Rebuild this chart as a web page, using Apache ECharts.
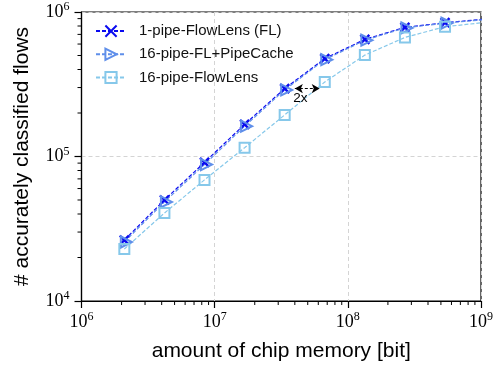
<!DOCTYPE html>
<html>
<head>
<meta charset="utf-8">
<script src="https://cdn.jsdelivr.net/npm/echarts@6/dist/echarts.min.js"></script>
<style>
  html, body { margin: 0; padding: 0; background: #fff; }
  #chart { width: 496px; height: 368px; }
</style>
</head>
<body>
<div id="chart"></div>
<script>
// chip memory in bit (2^21 .. 2^30)
const memory = [2097152, 4194304, 8388608, 16777216, 33554432, 67108864,
  134217728, 268435456, 536870912, 1073741824];

// accurately classified flows
const onePipeFL = [26400, 50000, 91000, 167000, 295000, 476000, 646000, 783000, 843000, 893000];
const pipeCache16 = [25600, 48500, 88000, 162000, 289000, 468000, 638000, 776000, 838000, 885000];
const flowLens16 = [22900, 40600, 68900, 115000, 194000, 328000, 503000, 667000, 791000, 847000];

const seriesNames = ['1-pipe-FlowLens (FL)', '16-pipe-FL+PipeCache', '16-pipe-FlowLens'];

// "2x" annotation between the two curves
const arrowFrom = [40000000, 295000];
const arrowTo = [61500000, 295000];

const xMin = 1e6, xMax = 1e9, yMin = 1e4, yMax = 1e6;

// minor ticks at 2..9 x 10^k
const minorTicks = [];
for (let e = 6; e < 9; e++) for (let m = 2; m <= 9; m++) minorTicks.push([m * Math.pow(10, e), yMin, 0]);
for (let e = 4; e < 6; e++) for (let m = 2; m <= 9; m++) minorTicks.push([xMin, m * Math.pow(10, e), 1]);

const chart = echarts.init(document.getElementById('chart'));

const pow10Label = {
  formatter: v => '{b|10}{s|' + Math.round(Math.log10(v)) + '}',
  rich: {
    b: { fontFamily: 'Liberation Serif', fontSize: 18, color: '#000' },
    s: { fontFamily: 'Liberation Serif', fontSize: 12, color: '#000', padding: [0, 0, 10, 0] }
  }
};

const dashed = { type: [4, 2], width: 1.2 };

chart.setOption({
  animation: false,
  backgroundColor: '#fff',
  grid: {
    left: 81.5, right: 12, top: 12, bottom: 67,
    show: true, borderColor: '#000', borderWidth: 1.2, backgroundColor: 'transparent'
  },
  legend: {
    data: seriesNames,
    orient: 'vertical',
    left: 90, top: 18,
    itemWidth: 30, itemHeight: 14, itemGap: 7,
    textStyle: { fontFamily: 'Liberation Sans', fontSize: 15, color: '#111', padding: [0, 0, 0, 8] }
  },
  xAxis: {
    type: 'log', logBase: 10, min: xMin, max: xMax,
    name: 'amount of chip memory [bit]', nameLocation: 'middle', nameGap: 40,
    nameTextStyle: { fontFamily: 'Liberation Sans', fontSize: 21, color: '#000' },
    axisLine: { lineStyle: { color: '#000', width: 1.2 } },
    axisTick: { show: true, length: 7, lineStyle: { color: '#000', width: 1.2 } },
    axisLabel: Object.assign({ margin: 10 }, pow10Label),
    splitLine: { show: true, lineStyle: { color: '#d4d4d4', type: [4, 3], width: 1 } }
  },
  yAxis: {
    type: 'log', logBase: 10, min: yMin, max: yMax,
    name: '# accurately classified flows', nameLocation: 'middle', nameGap: 49,
    nameTextStyle: { fontFamily: 'Liberation Sans', fontSize: 21, color: '#000' },
    axisLine: { lineStyle: { color: '#000', width: 1.2 } },
    axisTick: { show: true, length: 7, lineStyle: { color: '#000', width: 1.2 } },
    axisLabel: Object.assign({ margin: 12 }, pow10Label),
    splitLine: { show: true, lineStyle: { color: '#d4d4d4', type: [4, 3], width: 1 } }
  },
  series: [
    {
      name: seriesNames[0], type: 'line',
      data: memory.map((m, i) => [m, onePipeFL[i]]),
      symbol: 'path://M0,0L10,10M10,0L0,10', symbolSize: 9,
      itemStyle: { color: 'none', borderColor: '#0a0af0', borderWidth: 2.4 },
      lineStyle: Object.assign({ color: '#0a0af0' }, dashed),
      markLine: {
        silent: true, symbol: ['arrow', 'arrow'], symbolSize: [7, 8],
        lineStyle: { color: '#000', type: [3, 2], width: 1 },
        label: { show: true, position: 'insideMiddleBottom', distance: 3, formatter: '2x',
          fontFamily: 'Liberation Sans', fontSize: 13.5, color: '#000', offset: [-7, 0] },
        data: [[{ coord: arrowFrom }, { coord: arrowTo }]]
      }
    },
    {
      name: seriesNames[1], type: 'line',
      data: memory.map((m, i) => [m, pipeCache16[i]]),
      symbol: 'path://M0,0L10,5L0,10Z', symbolSize: 11, symbolOffset: [2, 0],
      itemStyle: { color: 'none', borderColor: '#5f8fea', borderWidth: 2 },
      lineStyle: Object.assign({ color: '#5f8fea' }, dashed)
    },
    {
      name: seriesNames[2], type: 'line',
      data: memory.map((m, i) => [m, flowLens16[i]]),
      symbol: 'rect', symbolSize: 10,
      itemStyle: { color: 'none', borderColor: '#86c8ea', borderWidth: 2 },
      lineStyle: Object.assign({ color: '#86c8ea' }, dashed)
    },
    {
      type: 'custom', silent: true,
      data: minorTicks,
      renderItem: (params, api) => {
        const p = api.coord([api.value(0), api.value(1)]);
        const left = api.value(2) === 1;
        return {
          type: 'line',
          shape: left ? { x1: p[0], y1: p[1], x2: p[0] - 4, y2: p[1] }
                      : { x1: p[0], y1: p[1], x2: p[0], y2: p[1] + 4 },
          style: { stroke: '#000', lineWidth: 1 }
        };
      }
    }
  ]
});
</script>
</body>
</html>
